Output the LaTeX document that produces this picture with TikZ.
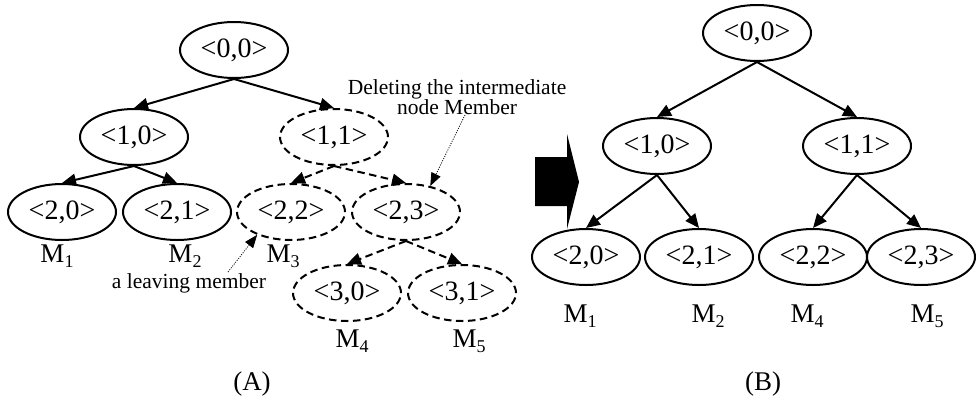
\documentclass[tikz,border=0pt]{standalone}
\usepackage{fontspec}
\setmainfont{Liberation Serif}
\usetikzlibrary{shapes.geometric,arrows.meta}
% member label: M with a lowered index
\newcommand{\Msub}[1]{M\raisebox{-5.5pt}{\fontsize{18}{18}\selectfont #1}}
\begin{document}
\begin{tikzpicture}[x=1pt,y=-1pt,
  tn/.style={ellipse,draw,line width=2pt,minimum width=108pt,minimum height=56pt,
             inner sep=0pt,font=\fontsize{28}{28}\selectfont},
  gone/.style={tn,dash pattern=on 7.5pt off 4.5pt},
  link/.style={line width=2pt,-{Triangle[length=14pt,width=12pt]}},
  gonelink/.style={link,dash pattern=on 7.5pt off 4.5pt},
  lbl/.style={font=\fontsize{27}{27}\selectfont,inner sep=0pt},
  note/.style={font=\fontsize{21.5}{18.5}\selectfont,align=center,inner sep=0pt},
  pointer/.style={line width=0.8pt,dash pattern=on 1pt off 1.4pt,-{Triangle[length=13pt,width=10pt]}}
]
\fill[white] (0,0) rectangle (976,400);
\useasboundingbox (0,0) rectangle (976,400);

% ---------- (A): key tree before the member leaves ----------
\node[tn]   (L00) at (234,50)  {<0,0>};
\node[tn]   (L10) at (134,137) {<1,0>};
\node[gone] (L11) at (334,137) {<1,1>};
\node[tn]   (L20) at (62,212)  {<2,0>};
\node[tn]   (L21) at (177,212) {<2,1>};
\node[gone] (L22) at (291,212) {<2,2>};
\node[gone] (L23) at (406,212) {<2,3>};
\node[gone] (L30) at (347,293) {<3,0>};
\node[gone] (L31) at (462,293) {<3,1>};

\draw[link] (L00.south) -- (L10.north);
\draw[link] (L00.south) -- (L11.north);
\draw[link] (L10.south) -- (L20.north);
\draw[link] (L10.south) -- (L21.north);
\draw[gonelink] (L11.south) -- (L22.north);
\draw[gonelink] (L11.south) -- (L23.north);
\draw[gonelink] (L23.south) -- (L30.north);
\draw[gonelink] (L23.south) -- (L31.north);

\node[lbl] (LM1) at (57,256)  {\Msub{1}};
\node[lbl] (LM2) at (185,256) {\Msub{2}};
\node[lbl] (LM3) at (283,256) {\Msub{3}};
\node[lbl] (LM4) at (352,341) {\Msub{4}};
\node[lbl] (LM5) at (469,341) {\Msub{5}};

\node[note] (leave) at (189,283) {a leaving member};
\coordinate (leavetail) at (228,272);
\draw[pointer] (leavetail) -- (L22.214);

\node[note] (del) at (457,97) {Deleting the intermediate\\node Member};
\coordinate (deltail) at (465,115);
\draw[pointer] (deltail) -- (L23.47);

\node[lbl] (capA) at (252,384) {(A)};

% ---------- transition arrow ----------
\fill[black] (535,157) -- (567,157) -- (567,134) -- (579,182) -- (567,229)
             -- (567,206) -- (535,206) -- cycle;

% ---------- (B): key tree after the update ----------
\node[tn] (R00) at (757,33)  {<0,0>};
\node[tn] (R10) at (657,146) {<1,0>};
\node[tn] (R11) at (857,146) {<1,1>};
\node[tn] (R20) at (586,257) {<2,0>};
\node[tn] (R21) at (699,257) {<2,1>};
\node[tn] (R22) at (813,257) {<2,2>};
\node[tn] (R23) at (921,257) {<2,3>};

\draw[link] (R00.south) -- (R10.north);
\draw[link] (R00.south) -- (R11.north);
\draw[link] (R10.south) -- (R20.north);
\draw[link] (R10.south) -- (R21.north);
\draw[link] (R11.south) -- (R22.north);
\draw[link] (R11.south) -- (R23.north);

\node[lbl] (RM1) at (580,316) {\Msub{1}};
\node[lbl] (RM2) at (708,316) {\Msub{2}};
\node[lbl] (RM4) at (807,316) {\Msub{4}};
\node[lbl] (RM5) at (927,316) {\Msub{5}};

\node[lbl] (capB) at (763,384) {(B)};
\end{tikzpicture}
\end{document}
